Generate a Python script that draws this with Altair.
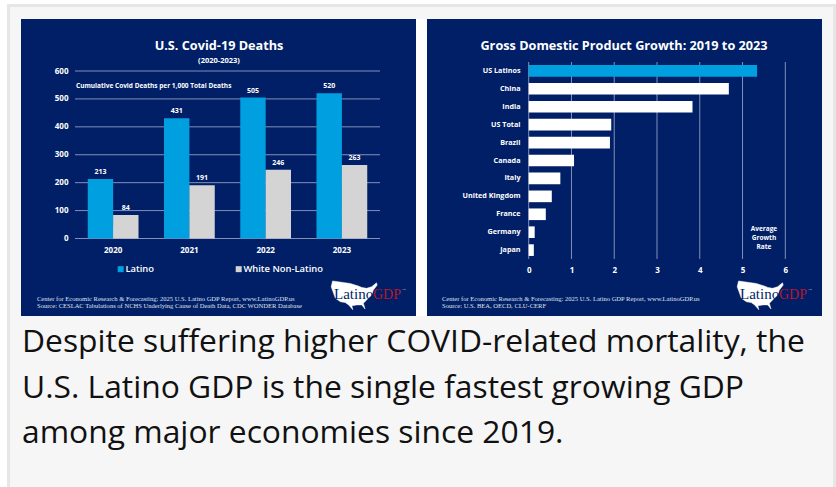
import altair as alt
import pandas as pd

# Covid deaths per 1,000 total deaths
years = ["2020", "2021", "2022", "2023"]
latino_deaths = [213, 431, 505, 520]
white_deaths = [84, 191, 246, 263]
death_series = ["Latino", "White Non-Latino"]
death_ticks = [0, 100, 200, 300, 400, 500, 600]

# Average GDP growth rate, 2019 to 2023
economies = ["US Latinos", "China", "India", "US Total", "Brazil", "Canada", "Italy",
             "United Kingdom", "France", "Germany", "Japan"]
growth = [5.34, 4.68, 3.83, 1.93, 1.90, 1.06, 0.74, 0.54, 0.40, 0.14, 0.12]
growth_ticks = [0, 1, 2, 3, 4, 5, 6]

caption_lines = ["Despite suffering higher COVID-related mortality, the",
                 "U.S. Latino GDP is the single fastest growing GDP",
                 "among major economies since 2019."]
left_footer = ["Center for Economic Research & Forecasting: 2025 U.S. Latino GDP Report, www.LatinoGDP.us",
               "Source: CESLAC Tabulations of NCHS Underlying Cause of Death Data, CDC WONDER Database"]
right_footer = ["Center for Economic Research & Forecasting: 2025 U.S. Latino GDP Report, www.LatinoGDP.us",
                "Source: U.S. BEA, OECD, CLU-CERF"]

NAVY = "#011f66"
BLUE = "#009fe0"
GREY = "#d4d4d4"
GRID = "#8490b8"
SANS = "Open Sans"
SERIF = "Liberation Serif"

# Simplified outline of the contiguous United States for the logo
US_OUTLINE = ("M-0.91,-0.61 L-0.14,-0.5 L0.21,-0.39 L0.36,-0.33 L0.57,-0.29 L0.79,-0.36 L1,-0.53 "
              "L1.03,-0.43 L0.86,-0.21 L0.79,0 L0.64,0.14 L0.5,0.29 L0.43,0.36 L0.5,0.61 L0.36,0.43 "
              "L0.14,0.43 L-0.07,0.47 L-0.03,0.64 L-0.21,0.43 L-0.36,0.33 L-0.57,0.29 L-0.79,0.14 "
              "L-0.89,-0.14 L-0.97,-0.36 Z")

# Tick labels only, placed on top of the panel fill
AXIS_STYLE = dict(title=None, ticks=False, domain=False, grid=False, zindex=1, labelPadding=0,
                  labelFlush=False, labelOverlap=False, labelColor="white", labelFont=SANS,
                  labelFontWeight="bold")


def box(x, x2, y, y2, color):
    return alt.Chart(pd.DataFrame({"k": [0]})).mark_rect(color=color).encode(
        x=alt.value(x), x2=alt.value(x2), y=alt.value(y), y2=alt.value(y2))


def label(text, x, y, size, color="white", weight="bold", align="center", font=SANS):
    return alt.Chart(pd.DataFrame({"t": [text]})).mark_text(
        fontSize=size, color=color, fontWeight=weight, align=align, baseline="alphabetic", font=font
    ).encode(text="t:N", x=alt.value(x), y=alt.value(y))


def logo(dx):
    outline = alt.Chart(pd.DataFrame({"k": [0]})).mark_point(
        shape=US_OUTLINE, filled=True, fill="white", stroke="white", strokeWidth=0.5,
        opacity=1, size=2116
    ).encode(x=alt.value(353.5 + dx), y=alt.value(295))
    return [outline,
            label("Latino", 334 + dx, 299, 15, NAVY, "normal", "left", SERIF),
            label("GDP", 373 + dx, 299, 14, "#b5172f", "normal", "left", SERIF),
            label("TM", 402 + dx, 290, 2.5, "#dddddd", "normal", "left", SERIF)]


# Page backdrop and the two navy panels
page = [box(0, 836, 0, 487, "white"),
        box(7, 836, 4, 487, "#e6e6e6"),
        box(10, 833, 7, 487, "#f6f6f6"),
        box(21, 427, 19, 316, "white"),
        box(21, 416, 19, 316, NAVY),
        box(427, 822, 19, 316, NAVY)]

# Covid deaths panel
deaths = pd.DataFrame({
    "year": years * 2,
    "series": [death_series[0]] * len(years) + [death_series[1]] * len(years),
    "value": latino_deaths + white_deaths,
})
death_y = alt.Scale(domain=[0, 600], range=[238.5, 71], nice=False)
death_x = alt.Scale(domain=years, range=[75, 380], paddingInner=0.335, paddingOuter=0.1675)
death_off = alt.Scale(domain=death_series)
death_y_axis = alt.Axis(values=death_ticks, orient="left", offset=-68, labelFontSize=8, **AXIS_STYLE)

death_grid = alt.Chart(pd.DataFrame({"v": death_ticks})).mark_rule(color=GRID, strokeWidth=1).encode(
    y=alt.Y("v:Q", scale=death_y, axis=death_y_axis),
    x=alt.value(75), x2=alt.value(380))

death_enc = dict(
    x=alt.X("year:N", scale=death_x, axis=alt.Axis(
        orient="bottom", offset=-241, labelAngle=0, labelFontSize=8, **AXIS_STYLE)),
    xOffset=alt.XOffset("series:N", scale=death_off),
    y=alt.Y("value:Q", scale=death_y, axis=death_y_axis),
)
death_bars = alt.Chart(deaths).mark_bar(size=25.4).encode(
    color=alt.Color("series:N", scale=alt.Scale(domain=death_series, range=[BLUE, GREY]),
                    legend=alt.Legend(
                        title=None, orient="none", legendX=116, legendY=264, direction="horizontal",
                        symbolType="square", symbolSize=36, symbolStrokeWidth=0, symbolOpacity=1,
                        labelColor="white", labelFont=SANS, labelFontWeight=600, labelFontSize=9.4,
                        labelOffset=0, columnPadding=80, padding=0)),
    **death_enc)
death_values = alt.Chart(deaths).mark_text(
    color="white", font=SANS, fontWeight="bold", fontSize=7, dy=-7
).encode(text="value:Q", **death_enc)

left_panel = alt.layer(
    death_grid, death_bars, death_values,
    label("U.S. Covid-19 Deaths", 219, 49.5, 12.7),
    label("(2020-2023)", 219, 62.5, 7.5),
    label("Cumulative Covid Deaths per 1,000 Total Deaths", 76, 87.5, 6.5, align="left"),
    label(left_footer[0], 37, 300.5, 6.55, "#dfe3ee", "normal", "left", SERIF),
    label(left_footer[1], 37, 307.5, 6.55, "#dfe3ee", "normal", "left", SERIF),
    *logo(0))

# GDP growth panel
gdp = pd.DataFrame({"economy": economies, "growth": growth,
                    "tone": ["lead"] + ["rest"] * (len(economies) - 1)})
gdp_x = alt.Scale(domain=[0, 6], range=[528.7, 785.3], nice=False)
gdp_y = alt.Scale(domain=economies, range=[62, 259], paddingInner=0.35, paddingOuter=0.17)
gdp_x_axis = alt.Axis(values=growth_ticks, orient="bottom", offset=-221, labelFontSize=8, **AXIS_STYLE)

gdp_grid = alt.Chart(pd.DataFrame({"v": growth_ticks})).mark_rule(color=GRID, strokeWidth=1).encode(
    x=alt.X("v:Q", scale=gdp_x, axis=gdp_x_axis),
    y=alt.value(62), y2=alt.value(259))
gdp_bars = alt.Chart(gdp).mark_bar().encode(
    y=alt.Y("economy:N", sort=economies, scale=gdp_y, axis=alt.Axis(
        orient="left", offset=-520, labelFontSize=7.2, **AXIS_STYLE)),
    x=alt.X("growth:Q", scale=gdp_x, axis=gdp_x_axis),
    color=alt.Color("tone:N", scale=alt.Scale(domain=["lead", "rest"], range=[BLUE, "white"]), legend=None),
)

right_panel = alt.layer(
    gdp_grid, gdp_bars,
    label("Gross Domestic Product Growth: 2019 to 2023", 624, 49.5, 12.7),
    label("Average", 764, 230.5, 6.5),
    label("Growth", 764, 239.5, 6.5),
    label("Rate", 764, 248.5, 6.5),
    label(right_footer[0], 442, 300.5, 6.55, "#dfe3ee", "normal", "left", SERIF),
    label(right_footer[1], 442, 307.5, 6.55, "#dfe3ee", "normal", "left", SERIF),
    *logo(406))

caption = [label(line, 22, y, 31.8, "#111111", "normal", "left")
           for line, y in zip(caption_lines, [352, 398, 443])]

chart = alt.layer(*page, left_panel, right_panel, *caption).resolve_scale(
    x="independent", y="independent", color="independent"
).properties(
    width=836, height=487, padding=0, autosize=alt.AutoSizeParams(type="none")
).configure_view(stroke=None).configure(background="white")

chart.save("out.html", embed_options={"renderer": "svg", "actions": False})
